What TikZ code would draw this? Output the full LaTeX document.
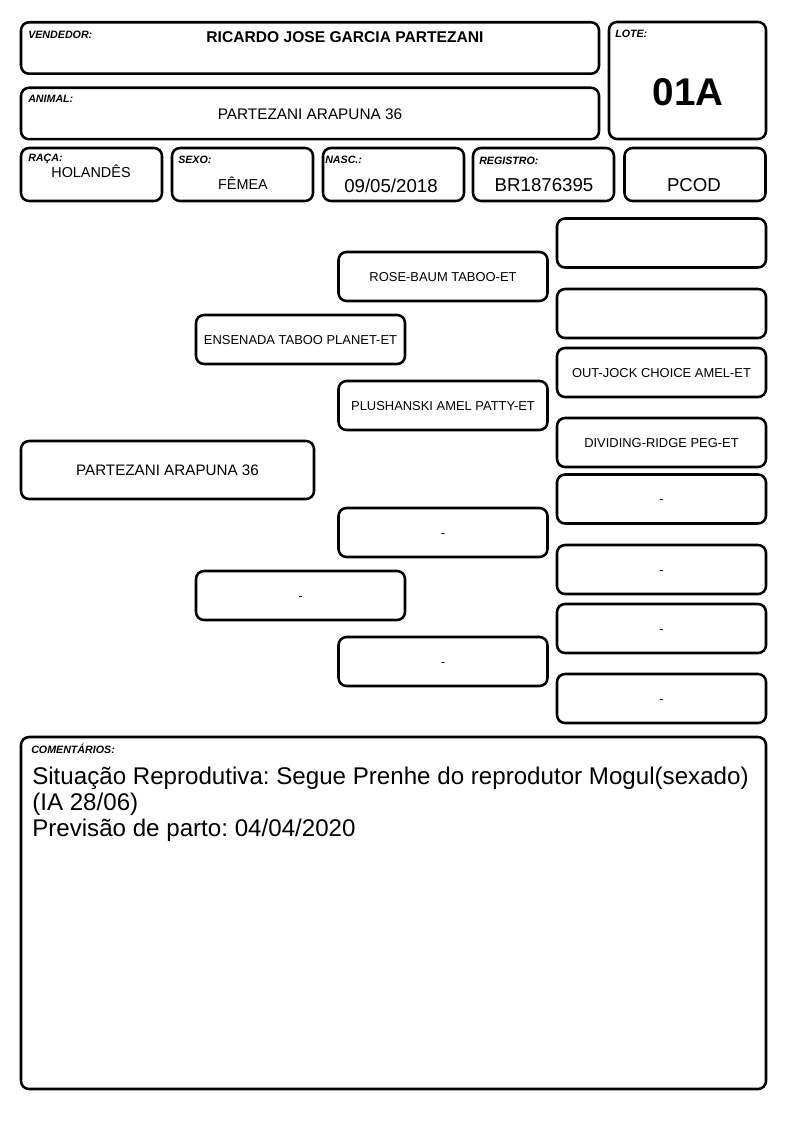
\documentclass[tikz,border=0pt]{standalone}
\usepackage{fontspec}
\setmainfont{Liberation Sans}
\usetikzlibrary{positioning}
\frenchspacing
\tikzstyle{every node}=[font=\fontsize{9.7}{11}\selectfont]
\tikzstyle{box}=[rectangle,
                 rounded corners=6pt,
                 draw=black,
                 line width=1.9pt,
                 inner sep=0pt
                 ]
\tikzstyle{wide}=[box,minimum width=433.5pt,minimum height=38.6pt]
\tikzstyle{small}=[box,minimum width=105.75pt,minimum height=39.75pt]
\tikzstyle{ped}=[box,
                 minimum width=156.75pt,
                 minimum height=36.75pt,
                 text height=6.95pt,
                 text depth=0pt
                 ]
\tikzstyle{pedroot}=[box,
                     minimum width=219.75pt,
                     minimum height=43.5pt,
                     text height=8.2pt,
                     text depth=0pt,
                     font=\fontsize{11.4}{13}\selectfont
                     ]
\tikzstyle{field}=[anchor=base west,inner sep=0pt,
                   font=\fontsize{8}{9}\bfseries\itshape\selectfont]
\tikzstyle{value}=[anchor=base,inner sep=0pt,font=\fontsize{14}{16}\selectfont]
\tikzstyle{comment}=[anchor=base west,inner sep=0pt,font=\fontsize{18.1}{20}\selectfont]

\begin{document}
\begin{tikzpicture}[x=0.75pt,y=-0.75pt]
\useasboundingbox (0,0) rectangle (794,1123);
% header
\node (vendedor) [wide] at (310,48) {};
\node (animal)   [wide] at (310,113.5) {};
\node (lote)     [box,minimum width=117.75pt,minimum height=87.75pt] at (687.5,80.5) {};
\node (raca)     [small] at (91.5,174.5) {};
\node (sexo)     [small] at (242.5,174.5) {};
\node (nasc)     [small] at (393.5,174.5) {};
\node (registro) [small] at (543.5,174.5) {};
\node (pcod)     [small] at (695,174.5) {};
\node [field] at (28,39)  {VENDEDOR:};
\node [field] at (28,103) {ANIMAL:};
\node [field] at (615,38) {LOTE:};
\node [field] at (28,162) {RAÇA:};
\node [field] at (178,164) {SEXO:};
\node [field] at (325,164) {NASC.:};
\node [field] at (479,165) {REGISTRO:};
\node [value,font=\fontsize{11.7}{13}\bfseries\selectfont] at (345,43) {RICARDO JOSE GARCIA PARTEZANI};
\node [value,font=\fontsize{11.5}{13}\selectfont] at (310,120) {PARTEZANI ARAPUNA 36};
\node [value,font=\fontsize{29}{32}\bfseries\selectfont] at (688,106) {01A};
\node [value,font=\fontsize{10.8}{12}\selectfont] at (91,178) {HOLANDÊS};
\node [value,font=\fontsize{10.8}{12}\selectfont] at (243,190) {FÊMEA};
\node [value] at (391,193) {09/05/2018};
\node [value] at (544,192) {BR1876395};
\node [value] at (694,192) {PCOD};
% pedigree
\node (A)   [pedroot] at (167.5,470) {PARTEZANI ARAPUNA 36};
\node (P_1) [ped] at (300.5,339.5) {ENSENADA TABOO PLANET-ET};
\node (P_2) [ped] at (300.5,595.5) {-};
\node (G_1) [ped] at (443,276.5) {ROSE-BAUM TABOO-ET};
\node (G_2) [ped] at (443,405.5) {PLUSHANSKI AMEL PATTY-ET};
\node (G_3) [ped] at (443,532.5) {-};
\node (G_4) [ped] at (443,661.5) {-};
\node (B_1) [ped] at (661.5,243) {};
\node (B_2) [ped] at (661.5,313.5) {};
\node (B_3) [ped] at (661.5,372.5) {OUT-JOCK CHOICE AMEL-ET};
\node (B_4) [ped] at (661.5,442.5) {DIVIDING-RIDGE PEG-ET};
\node (B_5) [ped] at (661.5,499) {-};
\node (B_6) [ped] at (661.5,569.5) {-};
\node (B_7) [ped] at (661.5,628.5) {-};
\node (B_8) [ped] at (661.5,698.5) {-};
% comments
\node (obs) [box,minimum width=558.75pt,minimum height=264pt] at (393.5,913) {};
\node [field] at (31,753) {COMENTÁRIOS:};
\node [comment] at (32,784) {Situação Reprodutiva: Segue Prenhe do reprodutor Mogul(sexado)};
\node [comment] at (32,810) {(IA 28/06)};
\node [comment] at (32,836) {Previsão de parto: 04/04/2020};
\end{tikzpicture}
\end{document}
